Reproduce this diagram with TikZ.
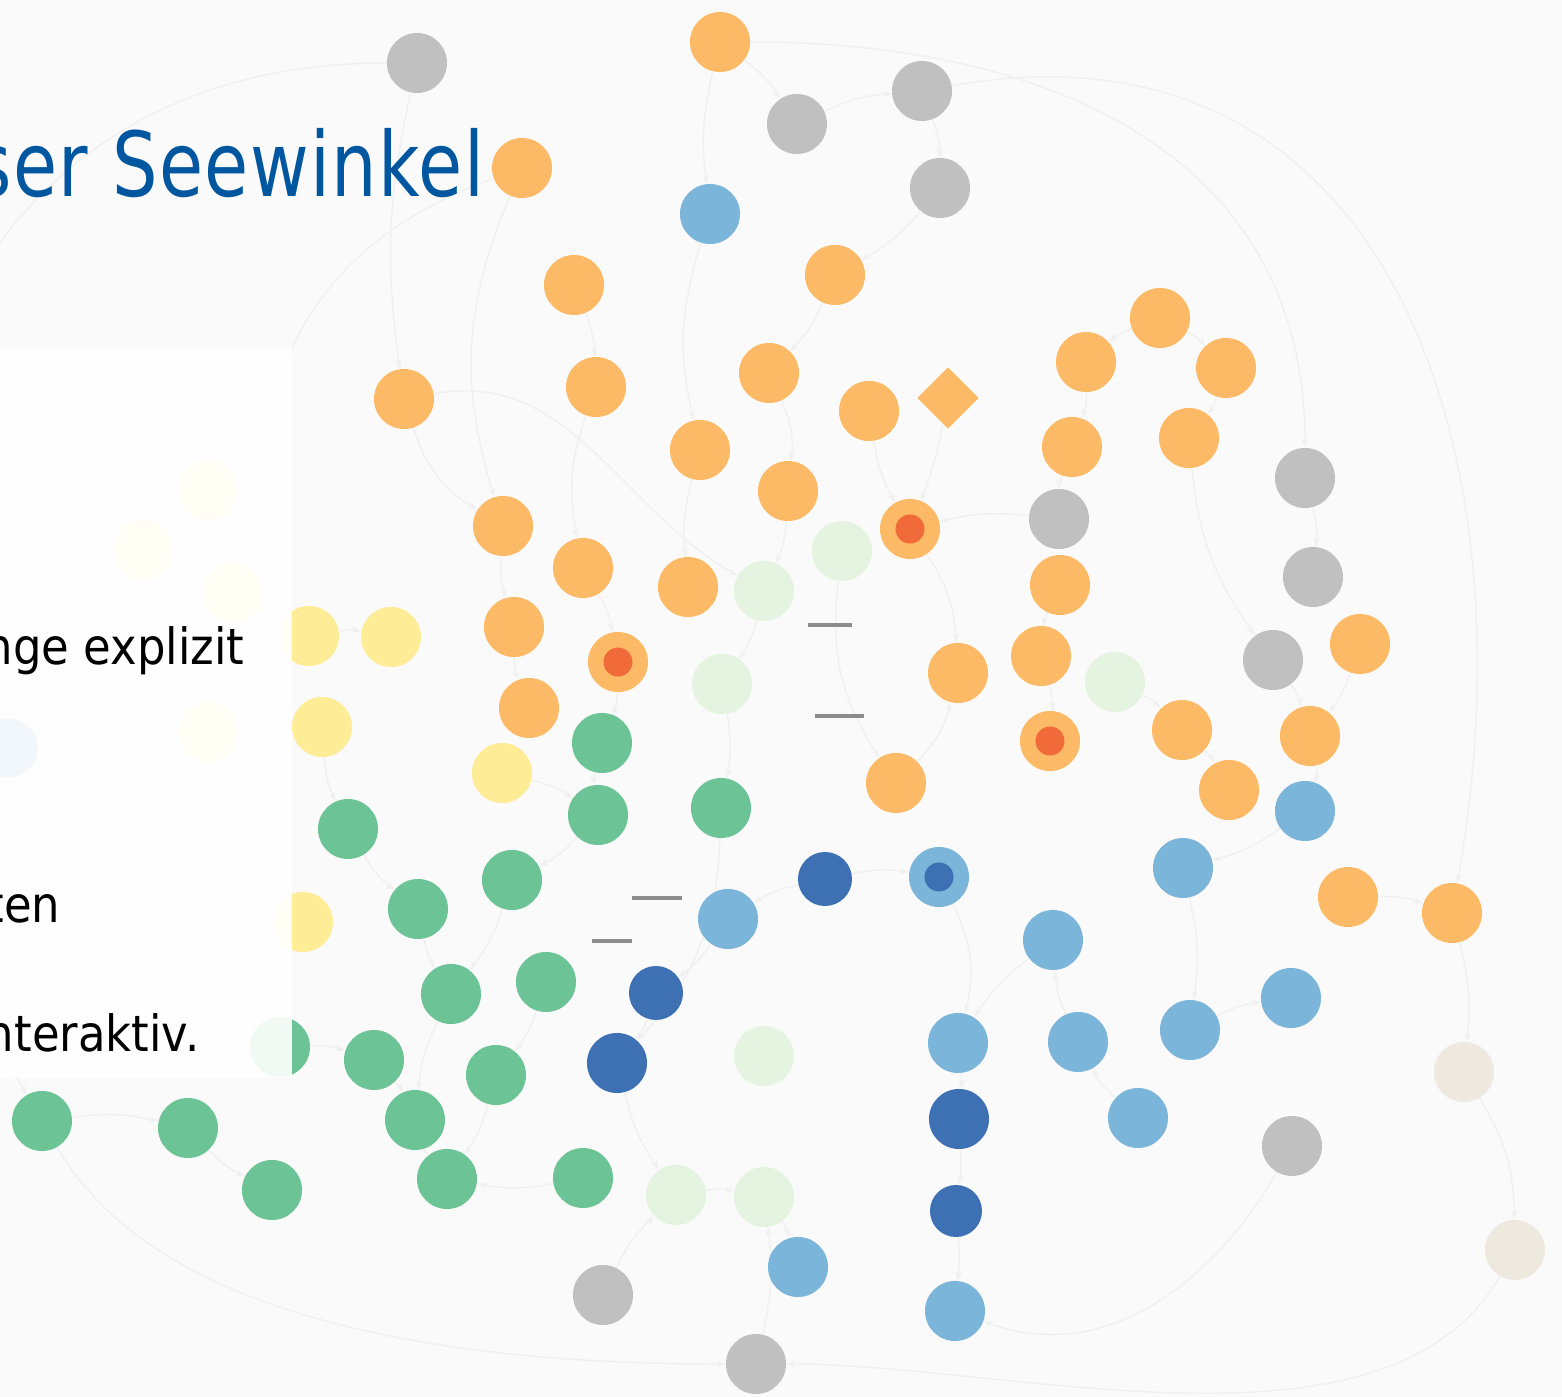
\documentclass[tikz,border=0pt]{standalone}
\usepackage{fontspec}
\setmainfont{DejaVu Sans}[FakeStretch=0.9]
\newfontfamily\titlefont{DejaVu Sans}[FakeStretch=0.8,LetterSpace=1.5]
\usepackage{xcolor}
\definecolor{net-orange}{RGB}{253,186,102}
\definecolor{net-red}{RGB}{241,106,58}
\definecolor{net-gray}{RGB}{192,192,192}
\definecolor{net-lblue}{RGB}{124,181,218}
\definecolor{net-dblue}{RGB}{62,112,180}
\definecolor{net-green}{RGB}{108,196,150}
\definecolor{net-pgreen}{RGB}{228,244,225}
\definecolor{net-yellow}{RGB}{255,236,150}
\definecolor{net-beige}{RGB}{237,233,222}
\definecolor{title-blue}{RGB}{0,87,160}
\usetikzlibrary{shapes.geometric,arrows.meta}
\pgfdeclarelayer{bg}
\pgfdeclarelayer{links}
\pgfsetlayers{bg,links,main}

\tikzset{
	dot/.style={circle,minimum size=.6cm,inner sep=0pt},
	orng/.style={dot,fill=net-orange},
	gry/.style={dot,fill=net-gray},
	lblu/.style={dot,fill=net-lblue},
	dblu/.style={dot,fill=net-dblue},
	grn/.style={dot,fill=net-green},
	pgrn/.style={dot,fill=net-pgreen},
	ylw/.style={dot,fill=net-yellow},
	bge/.style={dot,fill=net-beige},
	core/.style={circle,minimum size=.29cm,inner sep=0pt},
	edge/.style={draw=black!6,line width=.4pt,-{Stealth[length=2.5pt]}},
	tag/.style={draw=black!45,line width=1pt},
	body/.style={anchor=base east,inner sep=0pt,font=\fontsize{14.2}{17}\selectfont}
}

\begin{document}
\begin{tikzpicture}[x=.01cm,y=-.01cm]
	\useasboundingbox (0,0) rectangle (1562,1397);
	\clip (0,0) rectangle (1562,1397);
	\begin{pgfonlayer}{bg}
		\fill[black!2] (0,0) rectangle (1562,1397);
	\end{pgfonlayer}

	% title
	\node[anchor=base east,inner sep=0pt,text=title-blue,
		font=\titlefont\fontsize{25.5}{30}\selectfont] (ttl) at (485,197) {ser Seewinkel};

	% gray
	\path
		(417,63) node[gry] (g1) {}
		(797,124) node[gry] (g2) {}
		(922,91) node[gry] (g3) {}
		(940,188) node[gry] (g4) {}
		(1059,519) node[gry] (g5) {}
		(1305,478) node[gry] (g6) {}
		(1313,577) node[gry] (g7) {}
		(1273,660) node[gry] (g8) {}
		(1292,1146) node[gry] (g9) {}
		(603,1295) node[gry] (g10) {}
		(756,1364) node[gry] (g11) {};

	% orange
	\path
		(720,42) node[orng] (o1) {}
		(522,168) node[orng] (o2) {}
		(574,285) node[orng] (o3) {}
		(835,275) node[orng] (o4) {}
		(1160,318) node[orng] (o5) {}
		(404,399) node[orng] (o6) {}
		(596,387) node[orng] (o7) {}
		(769,373) node[orng] (o8) {}
		(869,411) node[orng] (o9) {}
		(1086,362) node[orng] (o10) {}
		(1226,368) node[orng] (o11) {}
		(700,450) node[orng] (o12) {}
		(1072,447) node[orng] (o13) {}
		(1189,438) node[orng] (o14) {}
		(788,491) node[orng] (o15) {}
		(503,526) node[orng] (o16) {}
		(583,568) node[orng] (o17) {}
		(688,587) node[orng] (o18) {}
		(1060,585) node[orng] (o19) {}
		(514,627) node[orng] (o20) {}
		(958,673) node[orng] (o21) {}
		(1041,656) node[orng] (o22) {}
		(1360,644) node[orng] (o23) {}
		(529,708) node[orng] (o24) {}
		(1182,730) node[orng] (o25) {}
		(1310,736) node[orng] (o26) {}
		(896,783) node[orng] (o27) {}
		(1229,790) node[orng] (o28) {}
		(1348,897) node[orng] (o29) {}
		(1452,913) node[orng] (o30) {};
	\node[diamond,fill=net-orange,minimum size=.62cm,inner sep=0pt] (d1) at (948,398) {};

	% orange with red core
	\path
		(910,529) node[orng] (r1) {} node[core,fill=net-red] {}
		(618,662) node[orng] (r2) {} node[core,fill=net-red] {}
		(1050,741) node[orng] (r3) {} node[core,fill=net-red] {};

	% light blue
	\path
		(710,214) node[lblu] (b1) {}
		(1305,811) node[lblu] (b2) {}
		(1183,868) node[lblu] (b3) {}
		(728,919) node[lblu] (b4) {}
		(1053,940) node[lblu] (b5) {}
		(1291,998) node[lblu] (b6) {}
		(958,1043) node[lblu] (b7) {}
		(1078,1042) node[lblu] (b8) {}
		(1190,1030) node[lblu] (b9) {}
		(1138,1118) node[lblu] (b10) {}
		(798,1267) node[lblu] (b11) {}
		(955,1311) node[lblu] (b12) {}
		(8,748) node[lblu] (b13) {}
		(939,877) node[lblu] (b14) {} node[core,fill=net-dblue] {};

	% dark blue
	\path
		(825,879) node[dblu,minimum size=.54cm] (k1) {}
		(656,993) node[dblu,minimum size=.54cm] (k2) {}
		(617,1063) node[dblu] (k3) {}
		(959,1119) node[dblu] (k4) {}
		(956,1211) node[dblu,minimum size=.52cm] (k5) {};

	% green
	\path
		(602,743) node[grn] (e1) {}
		(598,815) node[grn] (e2) {}
		(721,808) node[grn] (e3) {}
		(348,829) node[grn] (e4) {}
		(512,880) node[grn] (e5) {}
		(418,909) node[grn] (e6) {}
		(451,994) node[grn] (e7) {}
		(546,982) node[grn] (e8) {}
		(280,1047) node[grn] (e9) {}
		(374,1060) node[grn] (e10) {}
		(496,1075) node[grn] (e11) {}
		(42,1121) node[grn] (e12) {}
		(188,1128) node[grn] (e13) {}
		(415,1120) node[grn] (e14) {}
		(272,1190) node[grn] (e15) {}
		(447,1179) node[grn] (e16) {}
		(583,1178) node[grn] (e17) {};

	% pale green
	\path
		(842,551) node[pgrn] (p1) {}
		(764,591) node[pgrn] (p2) {}
		(722,684) node[pgrn] (p3) {}
		(1115,682) node[pgrn] (p4) {}
		(764,1056) node[pgrn] (p5) {}
		(676,1195) node[pgrn] (p6) {}
		(764,1197) node[pgrn] (p7) {};

	% yellow and beige
	\path
		(309,636) node[ylw] (y1) {}
		(391,637) node[ylw] (y2) {}
		(322,727) node[ylw] (y3) {}
		(502,773) node[ylw] (y4) {}
		(303,922) node[ylw] (y5) {}
		(208,490) node[ylw] (y6) {}
		(143,550) node[ylw] (y7) {}
		(233,593) node[ylw] (y8) {}
		(208,732) node[ylw] (y9) {}
		(1464,1072) node[bge] (c1) {}
		(1515,1250) node[bge] (c2) {};

	% faint links, behind the dots
	\begin{pgfonlayer}{links}
	\draw[edge] (g1) to[bend right=10] (o6);
	\draw[edge] (o1) to[bend left=10] (g2);
	\draw[edge] (g2) to[bend left=10] (g3);
	\draw[edge] (g3) to[bend left=10] (g4);
	\draw[edge] (g4) to[bend left=10] (o4);
	\draw[edge] (o1) to[bend right=10] (b1);
	\draw[edge] (b1) to[bend right=15] (o12);
	\draw[edge] (o3) to[bend left=10] (o7);
	\draw[edge] (o4) to[bend left=10] (o8);
	\draw[edge] (o5) to[bend right=10] (o10);
	\draw[edge] (o5) to[bend left=10] (o11);
	\draw[edge] (o10) to[bend left=10] (o13);
	\draw[edge] (o11) to[bend left=10] (o14);
	\draw[edge] (d1) to[bend left=5] (r1);
	\draw[edge] (o9) to[bend right=10] (r1);
	\draw[edge] (g5) to[bend right=10] (r1);
	\draw[edge] (r1) to[bend left=15] (o21);
	\draw[edge] (o12) to[bend right=10] (o18);
	\draw[edge] (o15) to[bend left=10] (p2);
	\draw[edge] (o16) to[bend right=10] (o20);
	\draw[edge] (o17) to[bend left=10] (r2);
	\draw[edge] (o20) to[bend right=10] (o24);
	\draw[edge] (r2) to[bend left=10] (e1);
	\draw[edge] (p3) to[bend left=10] (e3);
	\draw[edge] (o19) to[bend right=10] (o22);
	\draw[edge] (o22) to[bend left=10] (r3);
	\draw[edge] (p4) to[bend left=10] (o25);
	\draw[edge] (o25) to[bend left=10] (o28);
	\draw[edge] (b2) to[bend left=10] (b3);
	\draw[edge] (g6) to[bend left=10] (g7);
	\draw[edge] (o27) to[bend right=15] (o21);
	\draw[edge] (k1) to[bend left=10] (b14);
	\draw[edge] (k1) to[bend right=10] (b4);
	\draw[edge] (b4) to[bend left=10] (k2);
	\draw[edge] (k2) to[bend left=10] (k3);
	\draw[edge] (k3) to[bend right=10] (p6);
	\draw[edge] (p6) to[bend left=10] (p7);
	\draw[edge] (p7) to[bend left=10] (b11);
	\draw[edge] (g10) to[bend left=10] (p6);
	\draw[edge] (g11) to[bend right=10] (p7);
	\draw[edge] (b7) to[bend left=5] (k4);
	\draw[edge] (k4) to[bend left=5] (k5);
	\draw[edge] (k5) to[bend left=5] (b12);
	\draw[edge] (b8) to[bend left=10] (b5);
	\draw[edge] (b9) to[bend left=10] (b6);
	\draw[edge] (b10) to[bend left=10] (b8);
	\draw[edge] (o29) to[bend left=10] (o30);
	\draw[edge] (o30) to[bend left=10] (c1);
	\draw[edge] (c1) to[bend left=15] (c2);
	\draw[edge] (e4) to[bend right=10] (e6);
	\draw[edge] (e6) to[bend right=10] (e7);
	\draw[edge] (e5) to[bend left=10] (e7);
	\draw[edge] (e8) to[bend left=10] (e11);
	\draw[edge] (e11) to[bend left=10] (e16);
	\draw[edge] (e10) to[bend left=10] (e14);
	\draw[edge] (e14) to[bend right=10] (e16);
	\draw[edge] (e9) to[bend left=10] (e10);
	\draw[edge] (e13) to[bend right=10] (e15);
	\draw[edge] (e12) to[bend left=10] (e13);
	\draw[edge] (e17) to[bend left=10] (e16);
	\draw[edge] (e2) to[bend left=10] (e5);
	\draw[edge] (e1) to[bend right=10] (e2);
	\draw[edge] (y1) to[bend left=10] (y2);
	\draw[edge] (y3) to[bend right=10] (e4);
	\draw[edge] (y4) to[bend left=10] (e2);
	\draw[edge] (p1) to[bend right=20] (o27);
	\draw[edge] (e3) to[bend left=20] (k3);
	\draw[edge] (b14) to[bend left=20] (b7);
	\draw[edge] (o26) to[bend left=15] (b2);
	\draw[edge] (g8) to[bend left=10] (o26);
	\draw[edge] (o23) to[bend left=10] (o26);
	\draw[edge] (o14) to[bend right=15] (g8);
	\draw[edge] (o2) to[bend right=20] (o16);
	\draw[edge] (o6) to[bend right=20] (o16);
	\draw[edge] (o7) to[bend right=15] (o17);
	\draw[edge] (o8) to[bend left=15] (o15);
	\draw[edge] (o13) to[bend right=10] (g5);
	\draw[edge] (p2) to[bend left=10] (p3);
	\draw[edge] (b3) to[bend left=10] (b9);
	\draw[edge] (b5) to[bend right=10] (b7);
	\draw[edge] (e7) to[bend right=10] (e14);
	% long arcs
	\draw[edge] (o1) to[out=0,in=90,looseness=1.1] (g6);
	\draw[edge] (g3) to[out=10,in=80,looseness=1.2] (o30);
	\draw[edge] (e12) to[out=-60,in=180,looseness=.8] (g11);
	\draw[edge] (c2) to[out=-120,in=0,looseness=.8] (g11);
	\draw[edge] (g1) to[out=180,in=120,looseness=1.2] (e12);
	\draw[edge] (o2) to[out=200,in=90,looseness=1.1] (e9);
	\draw[edge] (g9) to[out=-120,in=-20,looseness=1] (b12);
	\draw[edge] (o6) to[out=10,in=150,looseness=1] (p2);
	\end{pgfonlayer}

	% tiny labels
	\draw[tag] (808,625) -- (852,625);
	\draw[tag] (815,716) -- (864,716);
	\draw[tag] (632,898) -- (682,898);
	\draw[tag] (592,941) -- (632,941);

	% text panel
	\fill[white,opacity=.9] (0,348) rectangle (292,1078);
	\node[body] (t1) at (245,665) {nge explizit};
	\node[body] (t2) at (61,923) {ten};
	\node[body] (t3) at (200,1052) {nteraktiv.};
\end{tikzpicture}
\end{document}
